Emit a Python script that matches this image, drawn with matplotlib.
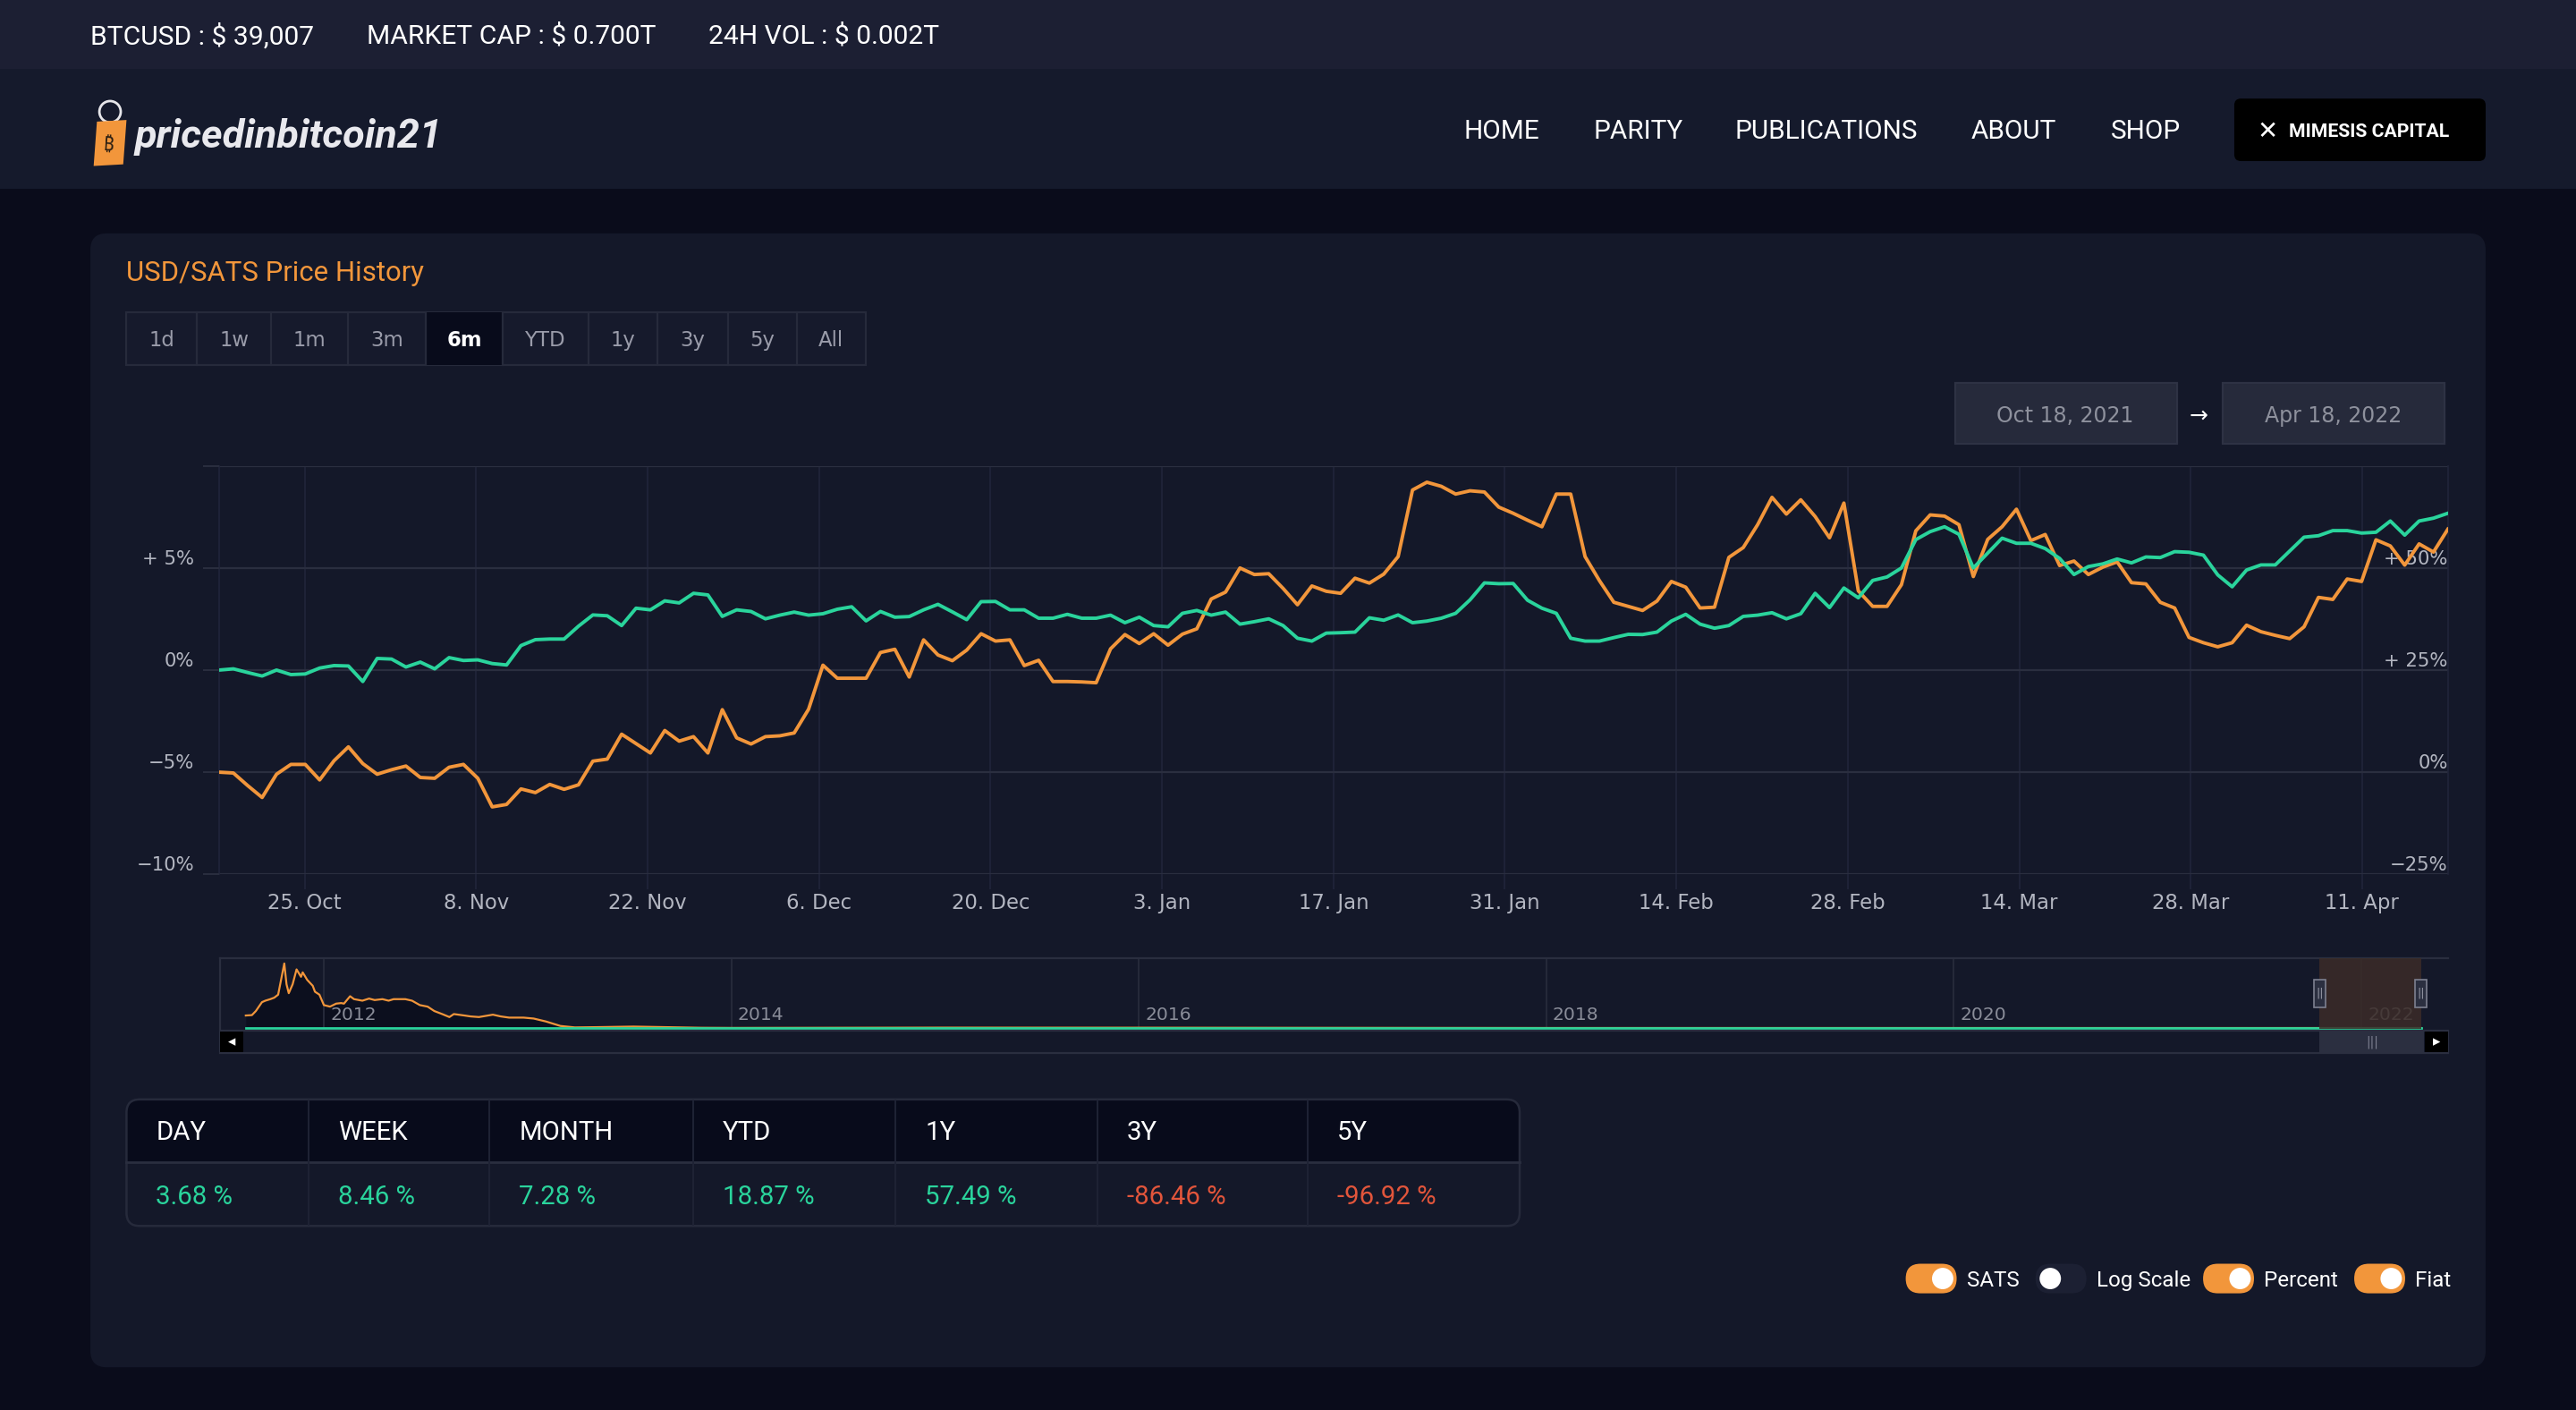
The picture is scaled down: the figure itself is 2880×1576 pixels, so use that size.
import pandas as pd
import matplotlib
matplotlib.use('Agg')
import matplotlib.pyplot as plt
import matplotlib.dates as mdates
from matplotlib.patches import Rectangle, FancyBboxPatch, Circle, Polygon
from matplotlib.transforms import blended_transform_factory

# ---- values ----
start_date = '2021-10-18'
end_date = '2022-04-18'

# USD/SATS, percent change (right axis)
sats_pct = [
    0.0, -0.2, -3.3, -6.2, -0.5, 1.9, 1.9, -1.9, 2.8, 6.2,
    2.1, -0.5, 0.6, 1.5, -1.3, -1.5, 1.2, 1.9, -1.5, -8.5,
    -7.9, -4.1, -5.0, -3.0, -4.2, -3.1, 2.7, 3.2, 9.3, 7.0,
    4.7, 10.2, 7.6, 8.7, 4.7, 15.3, 8.4, 6.9, 8.7, 8.9,
    9.6, 15.4, 26.2, 23.0, 23.0, 23.0, 29.3, 30.1, 23.3, 32.4,
    28.7, 27.3, 29.9, 33.9, 32.1, 32.4, 26.1, 27.4, 22.2, 22.2,
    22.1, 21.9, 30.2, 33.7, 31.5, 33.9, 31.1, 33.8, 35.1, 42.4,
    44.1, 50.0, 48.4, 48.6, 45.0, 41.0, 45.6, 44.3, 43.8, 47.5,
    46.3, 48.5, 52.8, 69.1, 71.0, 70.0, 68.1, 68.9, 68.6, 64.9,
    63.4, 61.7, 60.1, 68.1, 68.1, 52.8, 46.9, 41.6, 40.6, 39.6,
    41.9, 46.7, 45.3, 40.2, 40.4, 52.6, 55.0, 60.6, 67.3, 63.2,
    66.7, 62.6, 57.4, 65.9, 44.4, 40.6, 40.6, 45.9, 59.1, 63.0,
    62.7, 60.6, 47.9, 57.0, 60.1, 64.4, 56.7, 58.2, 50.6, 51.7,
    48.4, 50.2, 51.5, 46.4, 46.1, 41.6, 40.2, 33.0, 31.7, 30.7,
    31.7, 36.0, 34.4, 33.5, 32.7, 35.6, 42.8, 42.3, 47.3, 46.7,
    56.9, 55.4, 50.7, 55.9, 53.9, 59.5]

# Fiat, percent change (left axis)
fiat_pct = [
    0.0, 0.06, -0.12, -0.29, 0.0, -0.22, -0.19, 0.10, 0.22, 0.20,
    -0.56, 0.57, 0.54, 0.15, 0.39, 0.06, 0.61, 0.47, 0.50, 0.32,
    0.25, 1.20, 1.49, 1.52, 1.52, 2.15, 2.70, 2.66, 2.18, 3.03,
    2.95, 3.39, 3.29, 3.76, 3.68, 2.63, 2.95, 2.87, 2.51, 2.69,
    2.84, 2.69, 2.76, 2.98, 3.10, 2.41, 2.87, 2.59, 2.62, 2.95,
    3.22, 2.85, 2.47, 3.35, 3.36, 2.95, 2.95, 2.54, 2.54, 2.73,
    2.54, 2.54, 2.69, 2.32, 2.59, 2.18, 2.12, 2.78, 2.92, 2.69,
    2.84, 2.25, 2.37, 2.51, 2.18, 1.56, 1.42, 1.81, 1.83, 1.86,
    2.56, 2.44, 2.70, 2.32, 2.40, 2.54, 2.78, 3.44, 4.27, 4.23,
    4.24, 3.42, 3.03, 2.78, 1.56, 1.42, 1.42, 1.59, 1.75, 1.74,
    1.86, 2.40, 2.73, 2.25, 2.05, 2.18, 2.63, 2.69, 2.81, 2.51,
    2.76, 3.76, 3.06, 4.02, 3.54, 4.39, 4.56, 5.00, 6.39, 6.78,
    7.02, 6.65, 5.00, 5.73, 6.46, 6.21, 6.21, 5.95, 5.47, 4.68,
    5.07, 5.20, 5.44, 5.25, 5.54, 5.51, 5.80, 5.77, 5.63, 4.66,
    4.08, 4.90, 5.15, 5.15, 5.83, 6.51, 6.58, 6.83, 6.83, 6.71,
    6.75, 7.30, 6.61, 7.30, 7.44, 7.68]

x_tick_dates = pd.date_range('2021-10-25', periods=13, freq='14D')
left_ticks = [-10, -5, 0, 5, 10]
left_labels = ['−10%', '−5%', '0%', '+ 5%', '']
right_ticks = [-25, 0, 25, 50, 75]
right_labels = ['−25%', '0%', '+ 25%', '+ 50%', '']

# navigator: whole history (relative scale)
nav_dates = ['2011-08-14', '2011-08-25', '2011-09-01', '2011-09-12', '2011-09-18',
             '2011-09-27', '2011-10-04', '2011-10-11', '2011-10-22', '2011-10-26',
             '2011-10-30', '2011-11-06', '2011-11-13', '2011-11-21', '2011-11-24',
             '2011-12-02', '2011-12-12', '2011-12-16', '2011-12-24', '2012-01-01',
             '2012-01-12', '2012-01-23', '2012-02-01', '2012-02-06', '2012-02-17',
             '2012-02-24', '2012-03-10', '2012-03-22', '2012-04-01', '2012-04-15',
             '2012-04-26', '2012-05-05', '2012-05-26', '2012-06-07', '2012-06-21',
             '2012-07-05', '2012-07-17', '2012-07-31', '2012-08-13', '2012-08-21',
             '2012-09-09', '2012-09-20', '2012-10-05', '2012-10-30', '2012-11-13',
             '2012-11-28', '2012-12-24', '2013-01-11', '2013-02-02', '2013-02-28',
             '2013-03-26', '2013-05-06', '2013-07-09', '2013-11-07', '2014-01-01',
             '2015-01-15', '2016-01-01', '2017-01-01', '2018-01-01', '2022-04-18']
nav_vals = [17.9, 18.5, 24.3, 37.0, 39.1,
            41.3, 43.4, 47.7, 92.3, 62.6,
            49.8, 62.6, 83.8, 73.2, 79.6,
            68.9, 60.4, 51.9, 47.7, 32.8,
            30.6, 34.9, 35.7, 34.9, 45.5,
            41.3, 39.1, 42.1, 40.0, 41.3,
            39.1, 41.3, 41.3, 39.1, 32.8,
            30.6, 24.3, 20.0, 15.7, 20.0,
            17.9, 16.6, 15.7, 19.1, 16.6,
            14.9, 14.9, 13.6, 9.4, 3.0,
            0.9, 1.3, 2.1, 0.4, 0.2,
            0.6, 0.5, 0.3, 0.1, 0.05]
nav_fiat_dates = ['2011-08-14', '2022-04-18']
nav_fiat_vals = [0.0, 0.0]
nav_years = ['2012', '2014', '2016', '2018', '2020', '2022']

periods = ['DAY', 'WEEK', 'MONTH', 'YTD', '1Y', '3Y', '5Y']
returns = [3.68, 8.46, 7.28, 18.87, 57.49, -86.46, -96.92]

ticker = ['BTCUSD : $ 39,007', 'MARKET CAP : $ 0.700T', '24H VOL : $ 0.002T']
nav_items = ['HOME', 'PARITY', 'PUBLICATIONS', 'ABOUT', 'SHOP']
range_buttons = ['1d', '1w', '1m', '3m', '6m', 'YTD', '1y', '3y', '5y', 'All']
selected_button = '6m'
toggles = ['SATS', 'Log Scale', 'Percent', 'Fiat']
toggle_on = [True, False, True, True]

# ---- colours ----
ORANGE = '#f2963b'
GREEN = '#2ad49c'
RED = '#e2553b'
PAGE = '#0a0c1b'
CARD = '#141829'
GRID = '#2a2e3f'
VGRID = '#21253a'
LBL = '#b3b6c1'

W, H = 1568, 858
fig = plt.figure(figsize=(14.4, 7.88), dpi=200)
fig.patch.set_facecolor(PAGE)
plt.rcParams['font.family'] = ['DejaVu Sans']

bg = fig.add_axes([0, 0, 1, 1])
bg.set_xlim(0, W)
bg.set_ylim(H, 0)
bg.axis('off')


def rect_of(x0, y0, x1, y1):
    return [x0 / W, 1 - y1 / H, (x1 - x0) / W, (y1 - y0) / H]


def box(a, x0, y0, x1, y1, fc, ec='none', r=0, lw=0.8, z=1):
    if r:
        p = FancyBboxPatch((x0, y0), x1 - x0, y1 - y0,
                           boxstyle=f'round,pad=0,rounding_size={r}',
                           fc=fc, ec=ec, lw=lw, zorder=z)
    else:
        p = Rectangle((x0, y0), x1 - x0, y1 - y0, fc=fc, ec=ec, lw=lw, zorder=z)
    a.add_patch(p)


def txt(a, x, y, s, size, color='white', ha='left', va='center',
        family='Roboto', weight='normal', z=5, dy=1.2, **kw):
    # dy: nudge down, web text sits a bit lower than matplotlib's centre
    a.text(x, y + dy, s, fontsize=size, color=color, ha=ha, va=va, family=family,
           fontweight=weight, zorder=z, parse_math=False, **kw)


# page frame
box(bg, 0, 0, W, 42, '#1c1f33')
box(bg, 0, 42, W, 115, '#151a2c')
box(bg, 55, 142, 1513, 832, CARD, r=10)

# ticker bar
for x, s in zip([55, 223, 431], ticker):
    txt(bg, x, 21, s, 10.8)

# logo
bg.add_patch(Circle((67, 68), 6.5, fill=False, ec='#e6e6ea', lw=1.0, zorder=3))
bg.add_patch(Polygon([(59, 74), (77, 73), (75, 100), (57, 101)], closed=True,
                     fc=ORANGE, ec='none', zorder=4))
txt(bg, 66, 87, '₿', 7.5, color='#2a1e12', ha='center',
    family=['DejaVu Sans', 'Noto Sans'], weight='bold', rotation=-4)
txt(bg, 82, 82, 'pricedinbitcoin21', 16.2, color='#e9e9ee', weight='bold',
    style='italic')

# menu
for x, s in zip([891, 970, 1056, 1200, 1285], nav_items):
    txt(bg, x, 79, s, 10.7)
box(bg, 1360, 60, 1513, 98, '#000000', r=4, z=2)
txt(bg, 1380, 79, '✕', 10, ha='center', family='DejaVu Sans', weight='bold')
txt(bg, 1393, 79, 'MIMESIS CAPITAL', 7.6, weight='bold')

# card header
txt(bg, 77, 165, 'USD/SATS Price History', 11.2, color=ORANGE)

edges = [77, 120, 165, 212, 259, 306, 358, 400, 443, 485, 527]
box(bg, 77, 190, 527, 222, '#161a2c', ec='#262a3b', lw=0.8, z=2)
for i, lab in enumerate(range_buttons):
    x0, x1 = edges[i], edges[i + 1]
    sel = lab == selected_button
    if sel:
        box(bg, x0, 190, x1, 222, '#080b1b', z=3)
    if i > 0:
        bg.plot([x0, x0], [190, 222], color='#262a3b', lw=0.8, zorder=3)
    txt(bg, (x0 + x1) / 2, 206, lab, 8.2,
        color='white' if sel else '#9a9caa', ha='center',
        family='DejaVu Sans', weight='bold' if sel else 'normal')

d0 = pd.Timestamp(start_date)
d1 = pd.Timestamp(end_date)
box(bg, 1190, 233, 1325, 270, '#262a3b', ec='#2e3244', z=2)
box(bg, 1353, 233, 1488, 270, '#262a3b', ec='#2e3244', z=2)
txt(bg, 1257, 252, d0.strftime('%b %d, %Y'), 8.5, color='#8e919d', ha='center',
    family='DejaVu Sans')
txt(bg, 1420, 252, d1.strftime('%b %d, %Y'), 8.5, color='#8e919d', ha='center',
    family='DejaVu Sans')
txt(bg, 1338, 252, '→', 9, ha='center', family='DejaVu Sans')

# ---- main chart ----
dates = pd.date_range(start_date, end_date, periods=len(sats_pct))

ax = fig.add_axes(rect_of(133.3, 283.5, 1490, 532))
ax.set_facecolor('none')
ax2 = ax.twinx()

ax.plot(dates, sats_pct, color=ORANGE, lw=1.4, zorder=3, solid_joinstyle='round')
ax.set_ylim(-25, 75)
ax.set_xlim(dates[0], dates[-1])
ax.yaxis.tick_right()
ax.tick_params(axis='y', length=0, pad=0, labelsize=7.6, labelcolor=LBL)
ax.set_yticks(right_ticks, labels=right_labels, ha='right', va='bottom')
ax.set_xticks(x_tick_dates)
ax.xaxis.set_major_formatter(mdates.DateFormatter('%-d. %b'))
ax.tick_params(axis='x', length=6, width=0.6, color=VGRID, pad=1.5,
               labelsize=8.2, labelcolor=LBL)
ax.xaxis.grid(True, color=VGRID, lw=0.6)
ax.yaxis.grid(True, color=GRID, lw=0.8)
ax.set_axisbelow(True)
for side in ['top', 'bottom']:
    ax.spines[side].set_visible(False)
for side in ['left', 'right']:
    ax.spines[side].set_color(VGRID)
    ax.spines[side].set_linewidth(0.6)

ax2.plot(dates, fiat_pct, color=GREEN, lw=1.4, zorder=3, solid_joinstyle='round')
ax2.set_ylim(-10, 10)
ax2.yaxis.tick_left()
ax2.tick_params(axis='y', length=6.6, width=0.7, color=GRID, pad=3.3,
                labelsize=7.6, labelcolor=LBL)
ax2.set_yticks(left_ticks, labels=left_labels, va='bottom')
for s in ax2.spines.values():
    s.set_visible(False)

# ---- navigator ----
axn = fig.add_axes(rect_of(134, 583, 1490, 626))
axn.set_facecolor('none')
nd = pd.to_datetime(nav_dates)
axn.fill_between(nd, nav_vals, 0, color='#0c0f1e', lw=0, zorder=1)
axn.plot(nd, nav_vals, color=ORANGE, lw=0.8, zorder=2)
axn.plot(pd.to_datetime(nav_fiat_dates), nav_fiat_vals, color=GREEN, lw=1.0,
         zorder=3, clip_on=False)
axn.set_xlim(pd.Timestamp('2011-06-29'), pd.Timestamp('2022-06-05'))
axn.set_ylim(-1, 100)
axn.set_yticks([])
year_dates = pd.to_datetime([f'{y}-01-01' for y in nav_years])
axn.set_xticks(year_dates)
axn.tick_params(axis='x', length=0, labelbottom=False)
axn.xaxis.grid(True, color='#262a3a', lw=0.7)
trans_n = blended_transform_factory(axn.transData, axn.transAxes)
for yd, y in zip(year_dates, nav_years):
    axn.annotate(y, (mdates.date2num(yd), 0.19), xycoords=trans_n,
                 xytext=(2.5, 0), textcoords='offset points', ha='left',
                 va='center', color='#8a8d99', fontsize=7.3, zorder=2)
for side in ['right', 'bottom']:
    axn.spines[side].set_visible(False)
for side in ['top', 'left']:
    axn.spines[side].set_color(GRID)
    axn.spines[side].set_linewidth(0.8)
n0, n1 = mdates.date2num(d0), mdates.date2num(d1)
axn.add_patch(Rectangle((n0, 0), n1 - n0, 1, transform=trans_n,
                        fc='#3b2c28', alpha=0.85, ec='none', zorder=6))

# overlay for scrollbar and handles
fg = fig.add_axes([0, 0, 1, 1])
fg.set_xlim(0, W)
fg.set_ylim(H, 0)
fg.axis('off')


def nav_px(num):
    disp = axn.transData.transform((num, 0))
    return fg.transData.inverted().transform(disp)[0]


hx0, hx1 = nav_px(n0), nav_px(n1)
box(fg, 134, 627, 1490, 641, CARD, ec=GRID, lw=0.8, z=1)
box(fg, hx0, 627, hx1 + 2, 641, '#2b2f40', z=2)
txt(fg, (hx0 + hx1) / 2 + 1, 634, '|||', 5, color='#7d8090', ha='center',
    family='DejaVu Sans', z=3, dy=0)
box(fg, 134, 627.5, 148, 640.5, '#000000', z=3)
box(fg, 1476, 627.5, 1490, 640.5, '#000000', z=3)
txt(fg, 141, 634, '◂', 6, ha='center', family='DejaVu Sans', z=4, dy=0)
txt(fg, 1483, 634, '▸', 6, ha='center', family='DejaVu Sans', z=4, dy=0)
for hx in (hx0, hx1):
    box(fg, hx - 3.5, 596, hx + 3.5, 613, '#2b2f40', ec='#7d8090', lw=0.6, z=4)
    txt(fg, hx, 604.5, '||', 4.5, color='#9a9caa', ha='center',
        family='DejaVu Sans', z=5, dy=0)

# ---- returns table ----
col_x = [77, 188, 298, 422, 545, 668, 796, 925]
box(bg, 77, 669, 925, 746, CARD, r=8, z=2)
box(bg, 77, 669, 925, 718, '#080b1b', r=8, z=3)
box(bg, 77, 707, 925, 736, CARD, z=3.5)
box(bg, 77, 669, 925, 746, 'none', ec='#262a3b', r=8, lw=0.9, z=4)
bg.plot([77, 925], [707, 707], color=GRID, lw=1.0, zorder=4)
for cx in col_x[1:-1]:
    bg.plot([cx, cx], [669.5, 745.5], color='#1f2335', lw=0.7, zorder=4)
for i, (p, v) in enumerate(zip(periods, returns)):
    txt(bg, col_x[i] + 18, 688, p, 10.6)
    txt(bg, col_x[i] + 18, 727, f'{v:.2f} %', 10.6,
        color=GREEN if v > 0 else RED)

# ---- toggles ----
for x, lab, on in zip([1160, 1239, 1341, 1433], toggles, toggle_on):
    box(bg, x, 769, x + 31, 787, ORANGE if on else '#1c2033', r=9, z=2)
    bg.add_patch(Circle((x + 22.5 if on else x + 9, 778), 6.5, fc='white',
                        ec='none', zorder=3))
    txt(bg, x + 37, 778, lab, 8.7)

fig.savefig('out.png', dpi=200, facecolor=fig.get_facecolor())
